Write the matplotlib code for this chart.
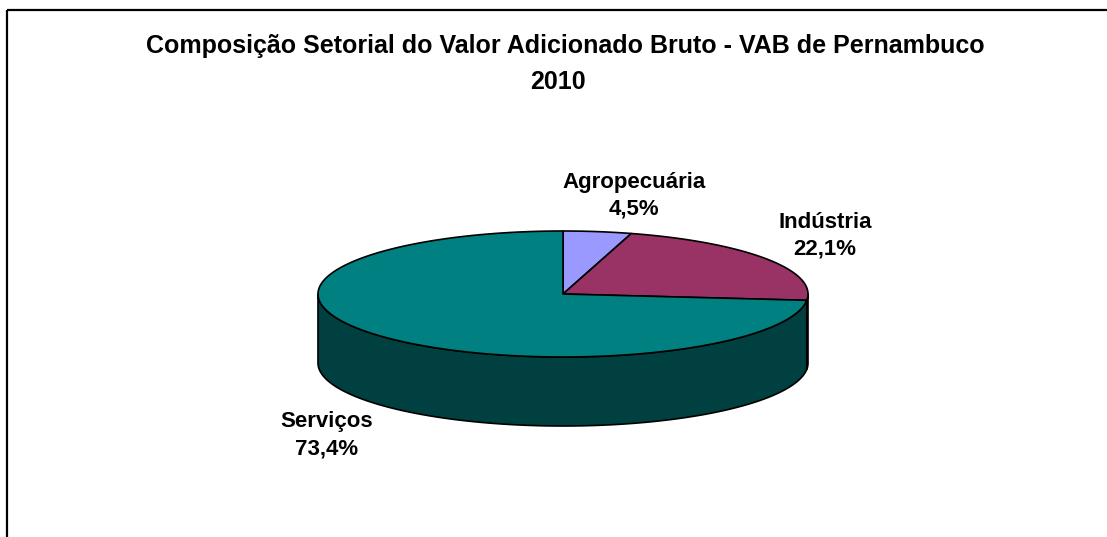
import numpy as np
import matplotlib
matplotlib.use("Agg")
import matplotlib.pyplot as plt
from matplotlib.patches import Polygon

plt.rcParams['font.family'] = ['Liberation Sans', 'DejaVu Sans']

# ---- data ----
categories = ["Agropecuária", "Indústria", "Serviços"]
values = [4.5, 22.1, 73.4]
value_labels = ["4,5%", "22,1%", "73,4%"]
title_lines = ["Composição Setorial do Valor Adicionado Bruto - VAB de Pernambuco", "2010"]

# ---- style ----
top_colors = ["#9999FF", "#993366", "#008080"]
side_colors = ["#4D4D80", "#4D1A33", "#004040"]

W, H = 1107, 537
fig = plt.figure(figsize=(W / 100, H / 100), dpi=100)
ax = fig.add_axes([0, 0, 1, 1])
ax.set_xlim(0, W)
ax.set_ylim(H, 0)
ax.axis("off")

# frame (top and left edges visible)
ax.plot([6.5, 6.5], [H + 5, 9.5], color="black", lw=1.6, solid_capstyle="butt")
ax.plot([6.5, W + 5], [9.5, 9.5], color="black", lw=1.6, solid_capstyle="butt")

cx, cy, a, b, depth = 563, 294, 245, 63, 69
start = 90.0
total = sum(values)
fr = np.cumsum([0] + values) / total


def pt(theta, dz=0.0):
    t = np.radians(theta)
    return cx + a * np.cos(t), cy - b * np.sin(t) + dz


# side walls (front half: 180..360 deg)
for i, v in enumerate(values):
    t0 = start - fr[i + 1] * 360
    t1 = start - fr[i] * 360
    for k in (-1, 0, 1):
        lo = max(t0, 180 + 360 * k)
        hi = min(t1, 360 + 360 * k)
        if hi - lo <= 1e-6:
            continue
        th = np.linspace(lo, hi, 200)
        top = [pt(t) for t in th]
        bot = [pt(t, depth) for t in th[::-1]]
        ax.add_patch(Polygon(top + bot, closed=True, facecolor=side_colors[i],
                             edgecolor="black", lw=1.2, joinstyle="round"))

# top faces
for i, v in enumerate(values):
    t0 = start - fr[i + 1] * 360
    t1 = start - fr[i] * 360
    th = np.linspace(t0, t1, 300)
    poly = [(cx, cy)] + [pt(t) for t in th]
    ax.add_patch(Polygon(poly, closed=True, facecolor=top_colors[i],
                         edgecolor="black", lw=1.2, joinstyle="round"))

# title
ax.text(565, 53, title_lines[0], ha="center", va="baseline", fontsize=18, fontweight="bold")
ax.text(558, 89, title_lines[1], ha="center", va="baseline", fontsize=18, fontweight="bold")

# labels: (x, baseline of name, baseline of value)
label_pos = [(634, 188, 215), (825, 228, 255), (326.5, 427, 455)]
for (x, y1, y2), c, vl in zip(label_pos, categories, value_labels):
    ax.text(x, y1, c, ha="center", va="baseline", fontsize=16, fontweight="bold")
    ax.text(x, y2, vl, ha="center", va="baseline", fontsize=16, fontweight="bold")

fig.savefig("out.png", dpi=100)
